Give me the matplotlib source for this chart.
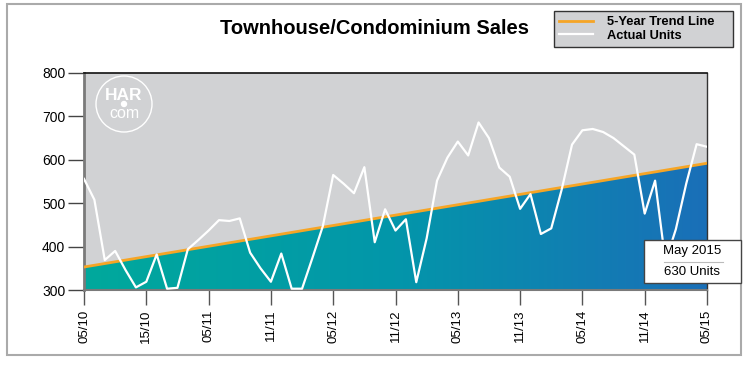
import numpy as np
import matplotlib.pyplot as plt
from matplotlib.patches import Rectangle, Ellipse, Polygon
from matplotlib.lines import Line2D
from matplotlib.colors import LinearSegmentedColormap

# monthly units, May 2010 .. May 2015
units = [556, 508, 369, 390, 346, 306, 319, 382, 303, 305,
         394, 415, 437, 461, 459, 465, 386, 350, 319, 384,
         303, 303, 374, 447, 565, 545, 523, 583, 410, 486,
         437, 463, 318, 419, 552, 605, 642, 610, 686, 650,
         582, 561, 487, 521, 429, 442, 531, 635, 668, 671,
         664, 650, 631, 612, 476, 552, 365, 440, 545, 636,
         630]
trend_ends = [353, 592]
tick_labels = ['05/10', '15/10', '05/11', '11/11', '05/12', '11/12',
               '05/13', '11/13', '05/14', '11/14', '05/15']
last_label = 'May 2015'

W, H = 750, 365
fig = plt.figure(figsize=(7.5, 3.65), dpi=100)
fig.patch.set_facecolor('white')
ax = fig.add_axes([84/W, 1-290/H, 623/W, 217/H])
ax.set_facecolor('#d1d2d4')

x = np.arange(len(units))
tx = [0, len(units)-1]

ax.set_xlim(0, 60)
ax.set_ylim(300, 800)

# gradient under the trend line
under = Polygon([(tx[0], 300), (tx[0], trend_ends[0]), (tx[1], trend_ends[1]), (tx[1], 300)],
                closed=True, fc='none', ec='none', transform=ax.transData)
ax.add_patch(under)
cmap = LinearSegmentedColormap.from_list('g', ['#00a99c', '#0396aa', '#1a6fb8'])
grad = np.linspace(0, 1, 256).reshape(1, -1)
img = ax.imshow(grad, cmap=cmap, aspect='auto', extent=[0, 60, 300, 800], zorder=1)
img.set_clip_path(under)
ax.set_xlim(0, 60)
ax.set_ylim(300, 800)

trend_line, = ax.plot(tx, trend_ends, color='#f6a525', lw=2, zorder=3)
units_line, = ax.plot(x, units, color='white', lw=1.6, zorder=4)

ax.set_xticks(range(0, 61, 6))
ax.set_xticklabels(tick_labels, rotation=90, fontsize=9.5, family='Liberation Sans')
ax.set_yticks(range(300, 801, 100))
ax.set_yticklabels([str(v) for v in range(300, 801, 100)], fontsize=10, family='Liberation Sans')
ax.tick_params(axis='x', length=11, width=1, color='#555555', pad=3)
ax.tick_params(axis='y', length=11.5, width=1, color='#444444', pad=2)
ax.spines['left'].set_color('#7a7a7a')
ax.spines['left'].set_linewidth(2)
ax.spines['bottom'].set_color('#7a7a7a')
ax.spines['bottom'].set_linewidth(1.5)
ax.spines['top'].set_color('#111111')
ax.spines['top'].set_linewidth(1.2)
ax.spines['right'].set_color('#333333')
ax.spines['right'].set_linewidth(1)

# HAR logo
ax.add_patch(Ellipse((40/623, 186/217), 56/623, 56/217, transform=ax.transAxes,
                     fill=False, ec='white', lw=1, zorder=5))
ax.text(40/623, 194/217, 'HAR', transform=ax.transAxes, color='white', ha='center',
        va='center', fontsize=12.5, fontweight='bold', family='Liberation Sans', zorder=5)
ax.add_patch(Ellipse((40/623, 186/217), 5/623, 5/217, transform=ax.transAxes,
                     color='white', zorder=5))
ax.text(40/623, 176/217, 'com', transform=ax.transAxes, color='white', ha='center',
        va='center', fontsize=11.5, family='Liberation Sans', zorder=5)

# title and legend
fig.text(375/W, 1-28/H, 'Townhouse/Condominium Sales', ha='center', va='center',
         fontsize=14.5, fontweight='bold', family='Liberation Sans')
leg = fig.legend([trend_line, units_line], ['5-Year Trend Line', 'Actual Units'],
                 loc='upper left', bbox_to_anchor=(554/W, 1-48/H, 179/W, 37/H),
                 mode='expand', borderaxespad=0, borderpad=0.4, labelspacing=0.1,
                 handlelength=2.6, handletextpad=1.1, fancybox=False,
                 facecolor='#d1d2d4', edgecolor='#333333', framealpha=1,
                 prop={'family': 'Liberation Sans', 'weight': 'bold', 'size': 9.3})
leg.get_frame().set_linewidth(1)

# tooltip
fig.patches.append(Rectangle((644/W, 1-283/H), 97/W, 43/H, transform=fig.transFigure,
                             fc='white', ec='#444444', lw=1, zorder=10))
fig.lines.append(Line2D([664/W, 723/W], [1-261.7/H, 1-261.7/H], transform=fig.transFigure,
                        color='#bbbbbb', lw=0.8, zorder=11))
fig.text(692/W, 1-251/H, last_label, ha='center', va='center', fontsize=9.5,
         family='Liberation Sans', zorder=12)
fig.text(692/W, 1-272/H, '%d Units' % units[-1], ha='center', va='center', fontsize=9.5,
         family='Liberation Sans', zorder=12)

# outer frame
fig.patches.append(Rectangle((7/W, 1-355/H), 734/W, 351/H, transform=fig.transFigure,
                             fill=False, ec='#aaaaaa', lw=1.5))

fig.savefig('out.png', dpi=100)
